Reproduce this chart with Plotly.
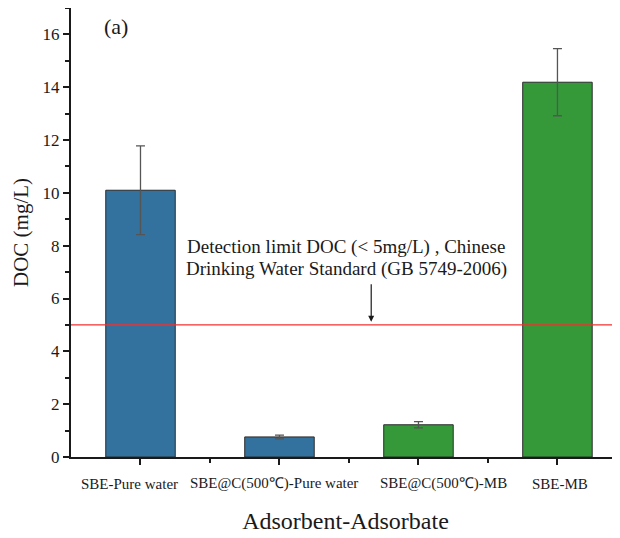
import plotly.graph_objects as go

categories = ["SBE-Pure water", "SBE@C(500℃)-Pure water", "SBE@C(500℃)-MB", "SBE-MB"]
doc_values = [10.1, 0.76, 1.22, 14.19]
doc_errors = [1.68, 0.07, 0.12, 1.27]
bar_colors = ["#33729e", "#33729e", "#35993a", "#35993a"]
limit_value = 5
y_ticks = [0, 2, 4, 6, 8, 10, 12, 14, 16]
note_lines = ["Detection limit DOC (< 5mg/L) , Chinese", "Drinking Water Standard (GB 5749-2006)"]
label_offsets = [-0.076, -0.036, 0.18, 0.02]

xpos = list(range(len(categories)))
font_family = "Liberation Serif"

fig = go.Figure()
fig.add_trace(go.Bar(
    x=xpos, y=doc_values, width=0.5,
    marker=dict(color=bar_colors, line=dict(color="#2b2b2b", width=1)),
    error_y=dict(type="data", array=doc_errors, visible=True,
                 color="#555555", thickness=1.3, width=4.5),
    showlegend=False,
))

fig.add_shape(type="line", xref="paper", x0=0, x1=1, yref="y", y0=limit_value, y1=limit_value,
              line=dict(color="#f03030", width=1.3))

# category labels (placed like the reference, slightly off their ticks)
for xp, off, cat in zip(xpos, label_offsets, categories):
    fig.add_annotation(x=xp + off, y=-0.060, xref="x", yref="paper", text=cat,
                       showarrow=False, yanchor="middle",
                       font=dict(family=font_family, size=15, color="#1a1a1a"))

for line_text, yv in zip(note_lines, [7.95, 7.12]):
    fig.add_annotation(x=1.48, y=yv, xref="x", yref="y", text=line_text,
                       showarrow=False, font=dict(family=font_family, size=19, color="#1a1a1a"),
                       align="center")
fig.add_annotation(x=1.66, y=5.12, ax=1.66, ay=6.6, xref="x", yref="y", axref="x", ayref="y",
                   text="", showarrow=True, arrowhead=2, arrowsize=1, arrowwidth=1.2,
                   arrowcolor="#1a1a1a")
fig.add_annotation(x=0.057, y=16.3, xref="paper", yref="y", text="(a)", showarrow=False,
                   font=dict(family=font_family, size=22, color="#1a1a1a"))

fig.update_layout(
    width=612, height=530,
    margin=dict(l=63, r=0, t=0, b=81),
    paper_bgcolor="white", plot_bgcolor="white",
    font=dict(family=font_family, color="#1a1a1a"),
    xaxis=dict(
        range=[-0.5, 3.45], tickvals=xpos, showticklabels=False,
        showline=True, linecolor="#1a1a1a", linewidth=2,
        mirror=True, ticks="outside", ticklen=6, tickwidth=2, tickcolor="#1a1a1a",
        showgrid=False, zeroline=False, automargin=False,
        minor=dict(tickvals=[0.5, 1.5, 2.5], ticks="outside", ticklen=4, tickwidth=1.5,
                   tickcolor="#1a1a1a"),
        title=dict(text="Adsorbent-Adsorbate", font=dict(size=24), standoff=48),
    ),
    yaxis=dict(
        range=[0, 17], tickvals=y_ticks, tickfont=dict(size=17),
        showline=True, linecolor="#1a1a1a", linewidth=2,
        ticks="outside", ticklen=6, tickwidth=2, tickcolor="#1a1a1a",
        showgrid=False, zeroline=False, automargin=False,
        minor=dict(dtick=1, ticks="outside", ticklen=4, tickwidth=1.5, tickcolor="#1a1a1a"),
        title=dict(text="DOC (mg/L)", font=dict(size=21), standoff=8),
    ),
)

fig.write_html("out.html")
